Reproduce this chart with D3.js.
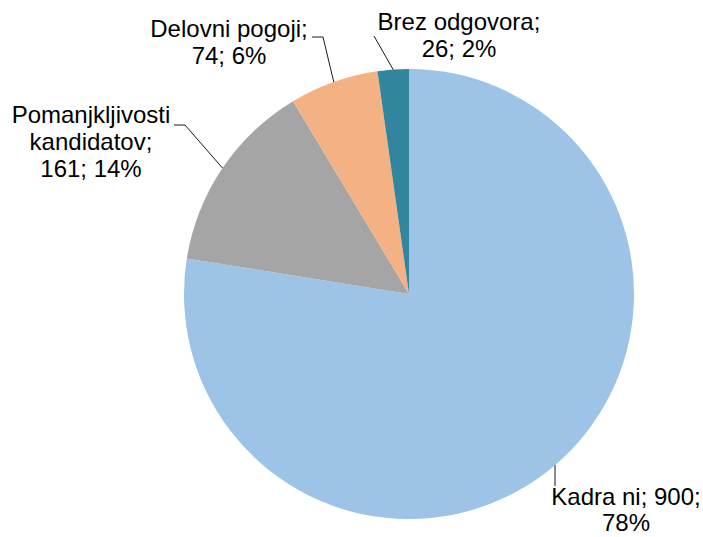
<!DOCTYPE html>
<html>
<head>
<meta charset="utf-8">
<script src="https://cdn.jsdelivr.net/npm/d3@7"></script>
<style>
  body { margin: 0; background: #fff; }
  text { font-family: "Liberation Sans", Arial, sans-serif; fill: #000; }
</style>
</head>
<body>
<div id="chart"></div>
<script>
// data
var categories = ["Kadra ni", "Pomanjkljivosti kandidatov", "Delovni pogoji", "Brez odgovora"];
var values = [900, 161, 74, 26];
var colors = ["#9DC3E6", "#A5A5A5", "#F4B183", "#31859C"];
// label text lines (as in the picture)
var labelLines = [
  ["Kadra ni; 900;", "78%"],
  ["Pomanjkljivosti", "kandidatov;", "161; 14%"],
  ["Delovni pogoji;", "74; 6%"],
  ["Brez odgovora;", "26; 2%"]
];

var width = 703, height = 537;
var cx = 409, cy = 294, radius = 225;
var fontSize = 24, lineH = 27;

// label placement: text centre x, first baseline y, elbow of leader line
var labelPos = [
  { x: 626, y: 505, elbow: null, end: [555, 486] },
  { x: 91, y: 123, elbow: [185, 125], end: [174, 125] },
  { x: 229, y: 37, elbow: [323, 37], end: [312, 37] },
  { x: 459, y: 30, elbow: null, end: [374, 36] }
];

var svg = d3.select("#chart")
  .append("svg")
  .attr("width", width)
  .attr("height", height);

var g = svg.append("g")
  .attr("transform", "translate(" + cx + "," + cy + ")");

var pie = d3.pie().sort(null).value(d => d);
var arcs = pie(values);

var arc = d3.arc().innerRadius(0).outerRadius(radius);

g.selectAll("path.slice")
  .data(arcs)
  .enter()
  .append("path")
    .attr("class", "slice")
    .attr("d", arc)
    .attr("fill", (d, i) => colors[i]);

// leader lines start on the outer edge at the slice mid-angle
var edge = d3.arc().innerRadius(radius).outerRadius(radius);

arcs.forEach(function(d, i) {
  var p = edge.centroid(d);
  var start = [cx + p[0], cy + p[1]];
  var lp = labelPos[i];
  var pts = [start];
  if (lp.elbow) pts.push(lp.elbow);
  pts.push(lp.end);
  svg.append("path")
    .attr("d", d3.line()(pts))
    .attr("fill", "none")
    .attr("stroke", "#1a1a1a")
    .attr("stroke-width", 1);

  var t = svg.append("text")
    .attr("text-anchor", "middle")
    .style("font-size", fontSize + "px");
  labelLines[i].forEach(function(line, k) {
    t.append("tspan")
      .attr("x", lp.x)
      .attr("y", lp.y + k * (i === 0 ? 26 : lineH))
      .text(line);
  });
});
</script>
</body>
</html>
